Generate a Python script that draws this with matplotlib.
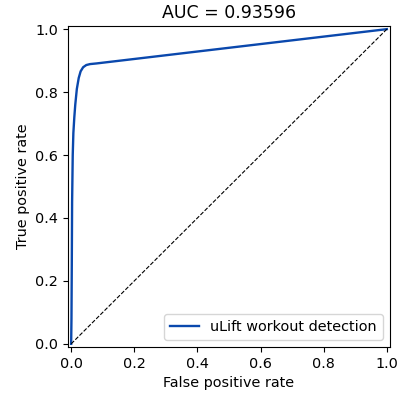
import matplotlib
matplotlib.use("Agg")
import matplotlib.pyplot as plt

fpr = [0.0, 0.001, 0.002, 0.003, 0.005, 0.007, 0.010, 0.013, 0.018, 0.024, 0.030, 0.038, 0.048, 0.060, 0.080, 1.0]
tpr = [0.0, 0.08, 0.25, 0.45, 0.60, 0.67, 0.72, 0.76, 0.81, 0.845, 0.866, 0.879, 0.886, 0.889, 0.891, 1.0]
label = "uLift workout detection"
title = "AUC = 0.93596"

plt.rcParams["font.size"] = 10.4
fig = plt.figure(figsize=(4.03, 3.95), dpi=100)
ax = fig.add_axes([68/403, 1-347/395, 322/403, 321/395])
ax.plot(fpr, tpr, color="#0a48ad", lw=1.7, label=label)
ax.plot([0, 1], [0, 1], color="black", lw=0.8, ls="--")
ax.set_xlim(-0.01, 1.01)
ax.set_ylim(-0.01, 1.01)
ax.set_xlabel("False positive rate")
ax.set_ylabel("True positive rate")
ax.set_title(title, fontsize=12.5)
ax.legend(loc="lower right")
fig.savefig("out.png", dpi=100)
